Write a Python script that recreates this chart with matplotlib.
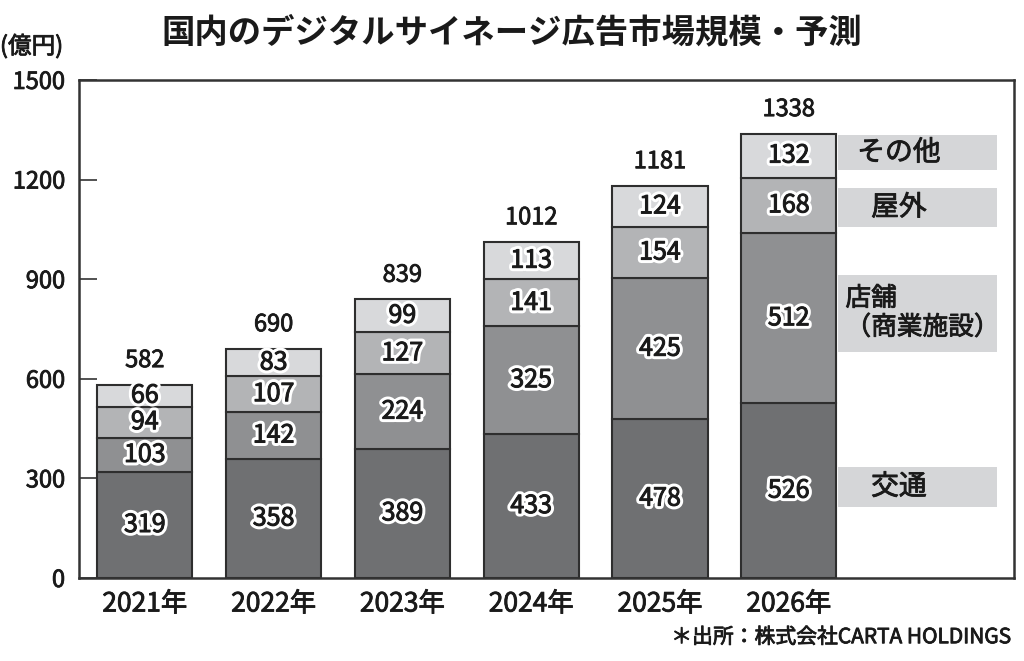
import matplotlib.pyplot as plt
import matplotlib.patheffects as pe
from matplotlib.patches import Rectangle
import numpy as np

plt.rcParams['font.family'] = ['Noto Sans CJK JP', 'DejaVu Sans']

years = ['2021年', '2022年', '2023年', '2024年', '2025年', '2026年']
transport = [319, 358, 389, 433, 478, 526]   # 交通
store = [103, 142, 224, 325, 425, 512]       # 店舗（商業施設）
outdoor = [94, 107, 127, 141, 154, 168]      # 屋外
other = [66, 83, 99, 113, 124, 132]          # その他
totals = [582, 690, 839, 1012, 1181, 1338]

series = [transport, store, outdoor, other]
colors = ['#6f7072', '#8f9092', '#b3b4b6', '#d8d9db']
legend_names = ['交通', '店舗\n（商業施設）', '屋外', 'その他']
# legend box spans (value units) on the right side
legend_boxes = [(215, 335), (682, 913), (1058, 1174), (1229, 1334)]

INK = '#1a1a1a'
# slightly heavier text, closer to the print font
bold_ish = [pe.Stroke(linewidth=0.6, foreground=INK), pe.Normal()]
halo = [pe.Stroke(linewidth=5, foreground='white'),
        pe.Stroke(linewidth=0.7, foreground=INK), pe.Normal()]

fig = plt.figure(figsize=(10.24, 6.61), dpi=100)
ax = fig.add_axes([0.077, 0.1256, 0.913, 0.7535])

x = np.arange(len(years))
bottom = np.zeros(len(years))
for vals, col in zip(series, colors):
    vals = np.array(vals)
    ax.bar(x, vals, width=0.74, bottom=bottom, color=col,
           edgecolor='#2e2e2e', linewidth=1.5, zorder=2)
    for xi, b, v in zip(x, bottom, vals):
        ax.text(xi, b + v / 2, str(v), ha='center', va='center',
                fontsize=18, color=INK, path_effects=halo, zorder=3)
    bottom += vals

for xi, t in zip(x, totals):
    ax.text(xi, t + 38, str(t), ha='center', va='bottom', fontsize=17, color=INK,
            path_effects=bold_ish)

# legend boxes
for (lo, hi), name in zip(legend_boxes, legend_names):
    ax.add_patch(Rectangle((5.38, lo), 1.235, hi - lo, facecolor='#d5d6d8',
                           edgecolor='none', zorder=1))
    if '\n' in name:
        ax.text(5.44, (lo + hi) / 2, name, ha='left', va='center', fontsize=18.5,
                color=INK, linespacing=1.15, path_effects=bold_ish)
    else:
        ax.text(5.855, (lo + hi) / 2, name, ha='center', va='center', fontsize=20,
                color=INK, path_effects=bold_ish)

ax.set_xlim(-0.512, 6.747)
ax.set_ylim(0, 1500)
ax.set_yticks([0, 300, 600, 900, 1200, 1500])
ax.set_xticks(x)
ax.set_xticklabels(years, fontsize=19, color=INK)
ax.tick_params(axis='y', direction='in', length=13, width=1.2, labelsize=17,
               labelcolor=INK, pad=10, color='#333333')
ax.tick_params(axis='x', length=0, pad=9)
for lbl in ax.get_xticklabels() + ax.get_yticklabels():
    lbl.set_path_effects(bold_ish)
for s in ax.spines.values():
    s.set_color('#333333')
    s.set_linewidth(1.8)

fig.text(0.5, 0.951, '国内のデジタルサイネージ広告市場規模・予測', ha='center', va='center',
         fontsize=24, fontweight='bold', color=INK)
fig.text(0.0, 0.93, '(億円)', ha='left', va='center', fontsize=17, color=INK,
         path_effects=bold_ish)
fig.text(0.988, 0.036, '＊出所：株式会社CARTA HOLDINGS', ha='right', va='center',
         fontsize=15, color=INK, path_effects=bold_ish)

fig.savefig('out.png', dpi=100)
